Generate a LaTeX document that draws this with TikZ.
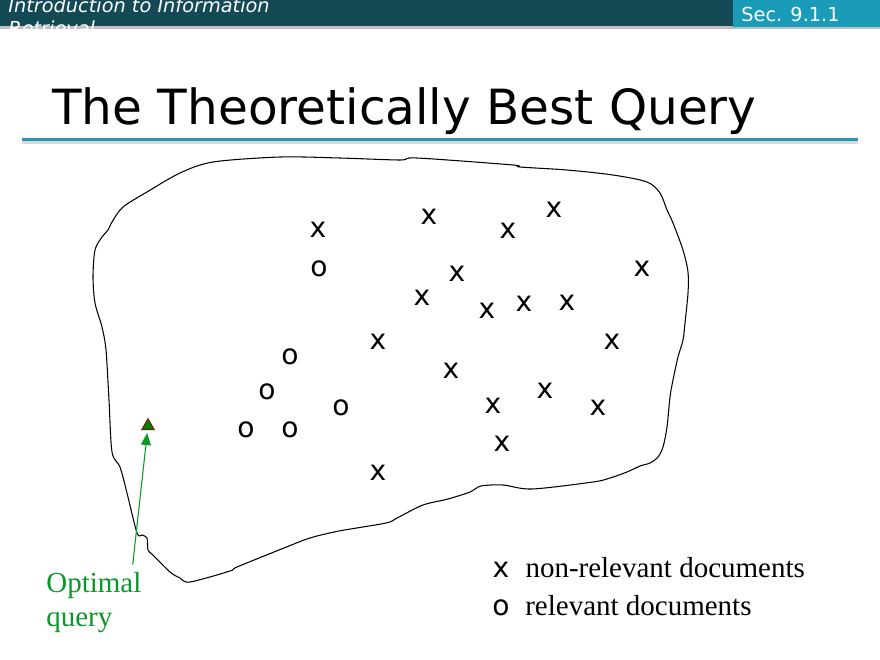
\documentclass[tikz,border=0pt]{standalone}
\usepackage{fontspec}
\setmainfont{Liberation Serif}
\newfontfamily\slidefont{DejaVu Sans}
\usetikzlibrary{positioning,shapes.geometric,arrows.meta}
\definecolor{barteal}{RGB}{19,74,85}
\definecolor{secteal}{RGB}{26,155,184}
\definecolor{ruleteal}{RGB}{38,152,182}
\definecolor{qgreen}{RGB}{10,150,40}
\tikzstyle{header}=[inner sep=0pt,text=white,font=\slidefont\fontsize{11}{13}\selectfont]
\tikzstyle{doc}=[inner sep=0pt,font=\slidefont\fontsize{16}{16}\selectfont]
\tikzstyle{legend}=[inner sep=0pt,font=\fontsize{16.5}{19.3}\selectfont]
\tikzstyle{optpoint}=[regular polygon,regular polygon sides=3,fill=green!50!black,draw=red!60!black,inner sep=0pt,minimum size=0.3cm]

\begin{document}
\begin{tikzpicture}[x=0.02cm,y=-0.02cm]
\useasboundingbox (0,0) rectangle (880,660);
% header bar
\fill[black!25] (0,26) rectangle (880,29);
\fill[barteal] (0,0) rectangle (733,26);
\fill[secteal] (733,0) rectangle (880,27);
\node[header, align=left, anchor=base west] (course) at (8,35) {\itshape Introduction to Information\\\itshape Retrieval};
\node[header, anchor=base west] (sec) at (741,21) {Sec. 9.1.1};
% title
\node[anchor=base west, inner sep=0pt, font=\slidefont\fontsize{27.6}{33}\selectfont] (title) at (52,124) {The Theoretically Best Query};
\fill[black!15] (22,141) rectangle (858,144);
\fill[ruleteal] (22,137.5) rectangle (858,141);
% document space
\draw[line width=0.6pt] plot[smooth cycle, tension=0.5] coordinates {
  (108,230) (112,222) (123,207) (147,192) (180,173) (213,162) (280,157)
  (340,158) (400,160) (417,158) (513,165) (520,167) (567,170) (613,175)
  (647,182) (660,193) (667,210) (673,223) (683,250) (688,272) (688,293)
  (685,323) (683,340) (678,357) (673,380) (670,397) (667,427) (663,447)
  (658,457) (650,463) (640,466) (627,472) (610,478) (593,482) (532,489)
  (503,485) (481,486) (470,492) (448,499) (423,505) (397,518) (386,523)
  (339,531) (310,538) (284,548) (237,567) (230,571) (190,582) (180,578)
  (170,572) (153,555) (148,550) (147,538) (142,535) (137,533) (127,493)
  (120,467) (112,452) (109,400) (106,350) (102,327) (95,303) (93,277)
  (95,250) (102,237)};
% non-relevant documents
\node[doc] (x1) at (318,230) {x};
\node[doc] (x2) at (429,217) {x};
\node[doc] (x3) at (508,231) {x};
\node[doc] (x4) at (554,210) {x};
\node[doc] (x5) at (642,269) {x};
\node[doc] (x6) at (457,274) {x};
\node[doc] (x7) at (422,298) {x};
\node[doc] (x8) at (487,311) {x};
\node[doc] (x9) at (524,304) {x};
\node[doc] (x10) at (567,303) {x};
\node[doc] (x11) at (378,342) {x};
\node[doc] (x12) at (612,342) {x};
\node[doc] (x13) at (451,371) {x};
\node[doc] (x14) at (545,391) {x};
\node[doc] (x15) at (493,406) {x};
\node[doc] (x16) at (598,408) {x};
\node[doc] (x17) at (502,444) {x};
\node[doc] (x18) at (378,473) {x};
% relevant documents
\node[doc] (o1) at (319,269) {o};
\node[doc] (o2) at (290,357) {o};
\node[doc] (o3) at (267,392) {o};
\node[doc] (o4) at (341,408) {o};
\node[doc] (o5) at (246,430) {o};
\node[doc] (o6) at (290,430) {o};
% optimal query
\node[optpoint] (query) at (148,426) {};
\node[legend, text=qgreen, align=left, anchor=base west] (optq) at (46,626) {Optimal\\query};
\draw[qgreen, line width=0.6pt, -{Triangle[length=0.24cm,width=0.2cm]}, shorten >=0.06cm] ([shift={(-9,-7)}]optq.north east) -- (query);
% legend
\node[doc, anchor=base] (legx) at (501,577) {x};
\node[legend, base right=0.31cm of legx] (legnr) {non-relevant documents};
\node[doc, anchor=base] (lego) at (501,615) {o};
\node[legend, base right=0.3cm of lego] (legr) {relevant documents};
\end{tikzpicture}
\end{document}
